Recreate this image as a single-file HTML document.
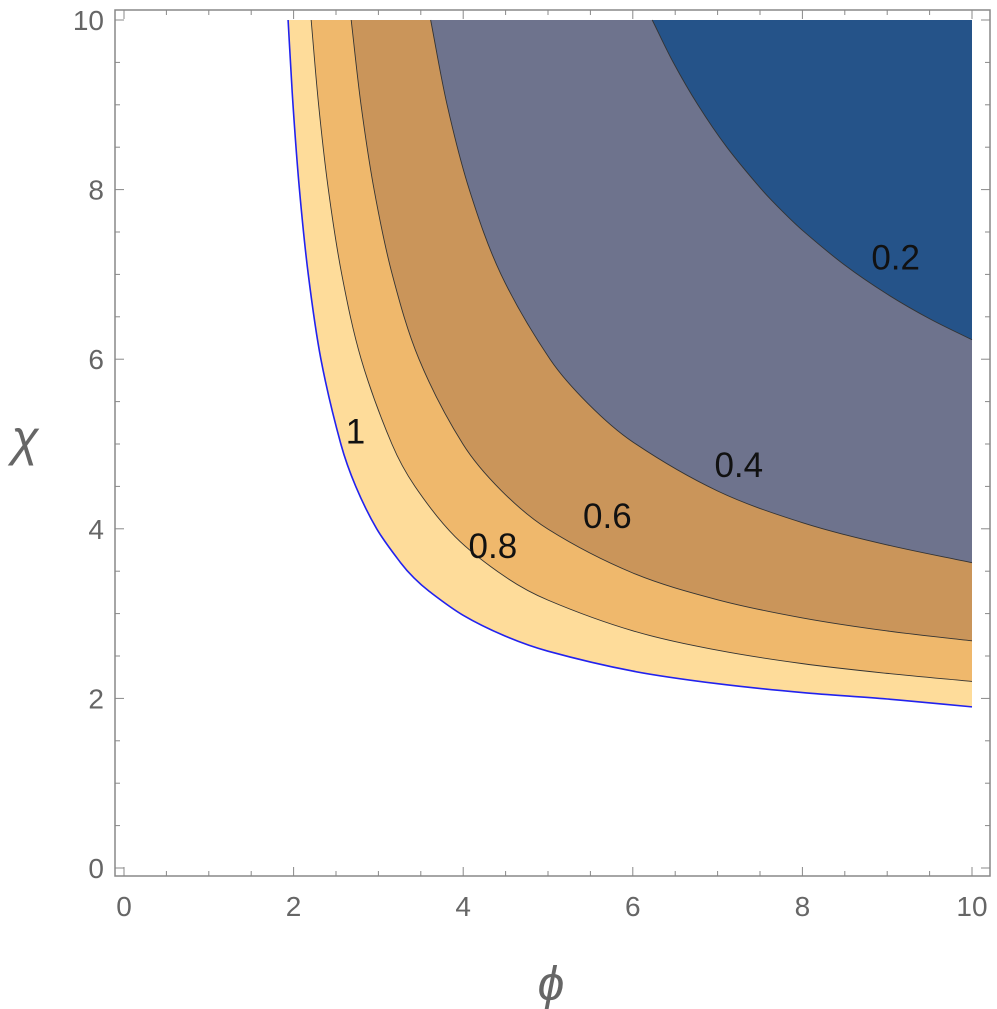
<!DOCTYPE html>
<html><head><meta charset="utf-8"><style>
body{margin:0;background:#fff}
svg{display:block}
text{font-family:"Liberation Sans",sans-serif}
</style></head><body>
<svg id="chart" width="997" height="1009"></svg>
<script>
const levels = [1, 0.8, 0.6, 0.4, 0.2];
const phi1 = [1.935,1.993,2.069,2.173,2.322,2.557,2.733,2.98,3.262,3.42,3.6,4,4.5,5,6,7,8,9,10];
const chi1 = [10,9,8,7,6,5,4.5,4,3.6,3.42,3.262,2.98,2.733,2.557,2.322,2.173,2.069,1.993,1.9];
const phi08 = [2.207,2.295,2.41,2.568,2.797,3.159,3.431,3.906,4.5,5,6,7,8,9,10];
const chi08 = [10,9,8,7,6,5,4.5,3.906,3.431,3.159,2.797,2.568,2.41,2.295,2.2];
const phi06 = [2.679,2.795,2.949,3.163,3.479,3.996,4.45,5,6,7,8,9,10];
const chi06 = [10,9,8,7,6,5,4.45,3.996,3.479,3.163,2.949,2.795,2.679];
const phi04 = [3.616,3.81,4.072,4.446,5.024,5.474,6,7,8,9,10];
const chi04 = [10,9,8,7,6,5.474,5.024,4.446,4.072,3.81,3.6];
const phi02 = [6.229,6.477,6.767,7.109,7.52,7.754,8,8.5,9,9.5,10];
const chi02 = [10,9.5,9,8.5,8,7.754,7.52,7.109,6.767,6.477,6.229];
const labelPhi = [2.73,4.35,5.7,7.25,9.1];
const labelChi = [5.15,3.8,4.15,4.75,7.2];
const labelText = ["1","0.8","0.6","0.4","0.2"];
const fills = ["#FEDC9A","#EFB86C","#CA955A","#6E738D","#255389"];
const ticks = [0,2,4,6,8,10];

const X0=124, S=84.8, Y0=868;
const xs = v => X0 + v*S;
const ys = v => Y0 - v*S;
const NS="http://www.w3.org/2000/svg";
const svg=document.getElementById('chart');
function mk(t,a,p){const e=document.createElementNS(NS,t);for(const k in a)e.setAttribute(k,a[k]);(p||svg).appendChild(e);return e;}

function tang(pts,i){
  const a=pts[Math.max(0,i-1)], b=pts[Math.min(pts.length-1,i+1)];
  const dx=b[0]-a[0], dy=b[1]-a[1], L=Math.hypot(dx,dy)||1;
  return [dx/L,dy/L];
}
function smooth(pts){
  let d=`M${pts[0][0]},${pts[0][1]}`;
  for(let i=0;i<pts.length-1;i++){
    const p1=pts[i],p2=pts[i+1];
    const L=Math.hypot(p2[0]-p1[0],p2[1]-p1[1])/3;
    const t1=tang(pts,i), t2=tang(pts,i+1);
    d+=` C${p1[0]+t1[0]*L},${p1[1]+t1[1]*L} ${p2[0]-t2[0]*L},${p2[1]-t2[1]*L} ${p2[0]},${p2[1]}`;
  }
  return d;
}
const series=[[phi1,chi1],[phi08,chi08],[phi06,chi06],[phi04,chi04],[phi02,chi02]];
const names=["1","0-8","0-6","0-4","0-2"];
series.forEach((s,i)=>{
  const pts=s[0].map((p,j)=>[xs(p),ys(s[1][j])]);
  const c=smooth(pts);
  const reg=mk('path',{d:c+` L${xs(10)},${ys(10)} Z`,fill:fills[i]});
  
  
  const ln=mk('path',{d:c,fill:'none',stroke:i===0?'#2222ee':'#333',"stroke-width":i===0?1.6:0.9});
  
  
});
labelText.forEach((t,i)=>{
  const e=mk('text',{x:xs(labelPhi[i]),y:ys(labelChi[i])+12,"text-anchor":"middle","font-size":35,fill:"#111"});
  e.textContent=t;
  
  
});
const fr=mk('rect',{x:115,y:10,width:875,height:866,fill:'none',stroke:'#888',"stroke-width":1.5});


for(let v=0;v<=10.001;v+=0.5){
  const major=Math.abs(v-Math.round(v/2)*2)<1e-6;
  const L=major?9:5;
  mk('line',{x1:xs(v),x2:xs(v),y1:876,y2:876-L,stroke:'#888'});
  mk('line',{x1:xs(v),x2:xs(v),y1:10,y2:10+L,stroke:'#888'});
  mk('line',{x1:115,x2:115+L,y1:ys(v),y2:ys(v),stroke:'#888'});
  mk('line',{x1:990,x2:990-L,y1:ys(v),y2:ys(v),stroke:'#888'});
}
ticks.forEach(t=>{
  const a=mk('text',{x:xs(t),y:916,"text-anchor":"middle","font-size":28,fill:'#666'});
  a.textContent=t;
  
  
  const b=mk('text',{x:104,y:ys(t)+10,"text-anchor":"end","font-size":28,fill:'#666'});
  b.textContent=t;
  
  
});
const xt=mk('text',{x:551,y:1000,"text-anchor":"middle","font-size":48,"font-style":"italic",fill:'#666',"font-family":"Liberation Serif, serif"});
xt.textContent='ϕ';


const yt=mk('text',{x:25,y:455,"text-anchor":"middle","font-size":50,"font-style":"italic",fill:'#666',"font-family":"Liberation Serif, serif"});
yt.textContent='χ';


</script>
</body></html>
